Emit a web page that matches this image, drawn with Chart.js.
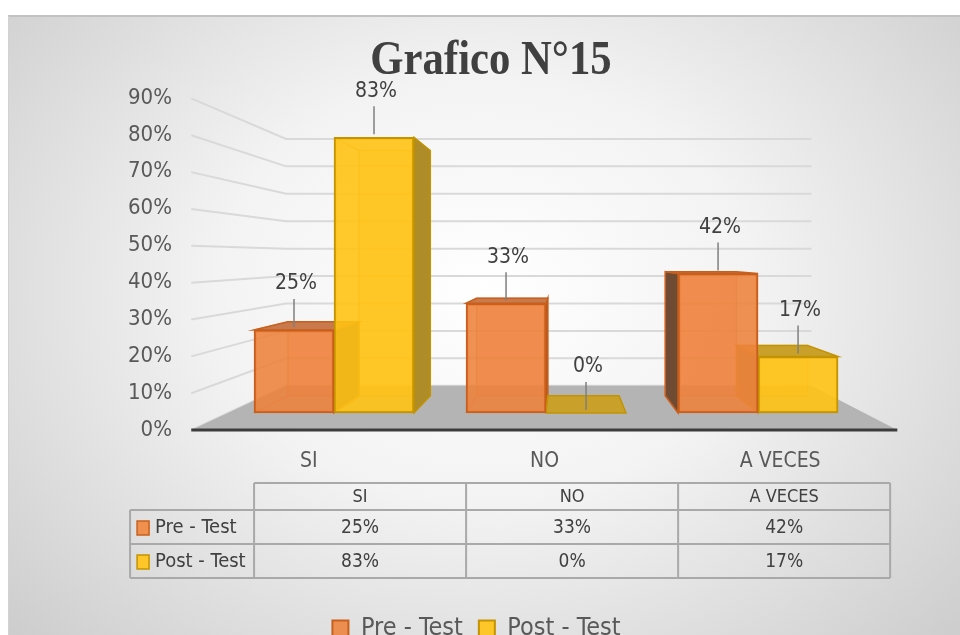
<!DOCTYPE html>
<html>
<head>
<meta charset="utf-8">
<script src="https://cdn.jsdelivr.net/npm/chart.js@4.4.1/dist/chart.umd.min.js"></script>
<style>
  html, body { margin: 0; padding: 0; background: #fff; overflow: hidden; width: 960px; height: 635px; }
  #bg {
    position: absolute; left: 8px; top: 15px; width: 952px; height: 650px;
    border-top: 2px solid #c2c2c2; border-left: 1px solid #d2d2d2;
    background: radial-gradient(ellipse at 50% 42%, #ffffff 0%, #f3f3f3 40%, #cacaca 100%);
  }
  #chart { position: absolute; left: 0; top: 0; }
</style>
</head>
<body>
<div id="bg"></div>
<canvas id="chart" width="960" height="660"></canvas>
<script>
const categories = ['SI', 'NO', 'A VECES'];
const seriesNames = ['Pre - Test', 'Post - Test'];
const preTest = [25, 33, 42];
const postTest = [83, 0, 17];
const yTickValues = [0, 10, 20, 30, 40, 50, 60, 70, 80, 90];
const chartTitle = 'Grafico N°15';

const SANS = '"Liberation Sans Narrow", "DejaVu Sans Condensed", "Open Sans", sans-serif';

// colours for each series: front face, edge, top, side
const looks = [
    { front: 'rgba(238,130,60,0.88)', solid: '#f0904f', edge: '#c95f1c', soft: 'rgba(201,95,28,0.45)',
      top: '#c87a4d', side: '#6f4b33', back: 'rgba(240,140,80,0.30)' },
    { front: 'rgba(255,194,20,0.90)', solid: '#ffc629', edge: '#c49300', soft: 'rgba(196,147,0,0.45)',
      top: '#c9a12a', side: '#ae8c28', back: 'rgba(255,200,40,0.30)' }
];

// fake perspective: vanishing point in data units, depth ratios
const persp = { vx: 1.075, vy: 47, barDepth: 0.11, wall: 0.174, front: -0.11 };

function proj(V, p, k) {
    return [p[0] + k * (V[0] - p[0]), p[1] + k * (V[1] - p[1])];
}

function poly(ctx, pts) {
    ctx.beginPath();
    ctx.moveTo(pts[0][0], pts[0][1]);
    for (let i = 1; i < pts.length; i++) ctx.lineTo(pts[i][0], pts[i][1]);
    ctx.closePath();
}

function vanish(chart) {
    return [chart.scales.xb.getPixelForValue(persp.vx), chart.scales.yb.getPixelForValue(persp.vy)];
}

const scene3d = {
    id: 'scene3d',
    beforeDatasetsDraw(chart) {
        const ctx = chart.ctx, xs = chart.scales.xb, ys = chart.scales.yb;
        const V = vanish(chart);
        const xl = xs.getPixelForValue(-0.5), xr = xs.getPixelForValue(categories.length - 0.5);
        const y0 = ys.getPixelForValue(0);
        ctx.save();

        // walls grid
        ctx.strokeStyle = '#d9d9d9';
        ctx.lineWidth = 2;
        yTickValues.forEach(v => {
            const y = ys.getPixelForValue(v);
            const a = proj(V, [xl, y], persp.front), b = proj(V, [xl, y], persp.wall), c = proj(V, [xr, y], persp.wall);
            ctx.beginPath();
            ctx.moveTo(a[0], a[1]); ctx.lineTo(b[0], b[1]); ctx.lineTo(c[0], c[1]);
            ctx.stroke();
        });

        // floor
        const f = [proj(V, [xl, y0], persp.front), proj(V, [xr, y0], persp.front),
                   proj(V, [xr, y0], persp.wall), proj(V, [xl, y0], persp.wall)];
        poly(ctx, f);
        ctx.fillStyle = '#b4b4b4';
        ctx.fill();
        ctx.beginPath();
        ctx.moveTo(f[0][0], f[0][1]); ctx.lineTo(f[1][0], f[1][1]);
        ctx.strokeStyle = '#3c3c3c';
        ctx.lineWidth = 3;
        ctx.stroke();

        // hidden faces of the bars
        chart.data.datasets.forEach((ds, di) => {
            const look = looks[di];
            chart.getDatasetMeta(di).data.forEach(bar => {
                const { x, y, base, width } = bar.getProps(['x', 'y', 'base', 'width'], true);
                const x1 = x - width / 2, x2 = x + width / 2, k = persp.barDepth;
                const tl = proj(V, [x1, y], k), tr = proj(V, [x2, y], k);
                const bl = proj(V, [x1, base], k), br = proj(V, [x2, base], k);
                ctx.lineWidth = 1.5;
                if (base - y > 1) {
                    poly(ctx, [tl, tr, br, bl]);
                    ctx.fillStyle = look.back; ctx.fill();
                    ctx.strokeStyle = look.soft; ctx.stroke();
                    ctx.beginPath();
                    ctx.moveTo(x1, base); ctx.lineTo(bl[0], bl[1]);
                    ctx.moveTo(x1, y); ctx.lineTo(tl[0], tl[1]);
                    ctx.stroke();
                }
                let side = null;
                if (x2 < V[0]) side = [[x2, y], tr, br, [x2, base]];
                else if (x1 > V[0]) side = [[x1, y], tl, bl, [x1, base]];
                if (side && base - y > 1) {
                    poly(ctx, side);
                    ctx.fillStyle = look.side; ctx.fill();
                    ctx.strokeStyle = look.edge; ctx.stroke();
                }
                if (y > V[1]) {
                    poly(ctx, [[x1, y], [x2, y], tr, tl]);
                    ctx.fillStyle = look.top; ctx.fill();
                    ctx.strokeStyle = look.edge; ctx.stroke();
                }
            });
        });
        ctx.restore();
    },
    afterDraw(chart) {
        const ctx = chart.ctx;
        ctx.save();
        // title (narrow, tall serif)
        ctx.fillStyle = '#404040';
        ctx.font = 'bold 48px "Liberation Serif", serif';
        ctx.textAlign = 'center';
        ctx.textBaseline = 'middle';
        ctx.save();
        ctx.translate(491, 62);
        ctx.scale(0.89, 1);
        ctx.fillText(chartTitle, 0, 0);
        ctx.restore();

        // value labels with leader lines
        ctx.font = '21px ' + SANS;
        chart.data.datasets.forEach((ds, di) => {
            chart.getDatasetMeta(di).data.forEach((bar, i) => {
                const { x, y } = bar.getProps(['x', 'y'], true);
                ctx.strokeStyle = '#7f7f7f';
                ctx.lineWidth = 1.5;
                ctx.beginPath();
                ctx.moveTo(x, y - 3); ctx.lineTo(x, y - 31);
                ctx.stroke();
                ctx.fillStyle = '#404040';
                ctx.fillText(ds.values[i] + '%', x + 2, y - 46);
            });
        });
        ctx.restore();
    }
};

const dataTable = {
    id: 'dataTable',
    afterDraw(chart) {
        const ctx = chart.ctx, xs = chart.scales.xb;
        const top = chart.chartArea.bottom + 53;
        const headH = 27, rowH = 34;
        const edge = i => xs.getPixelForValue(i - 0.377);
        const left = edge(0) - 124, right = edge(categories.length);
        const bottom = top + headH + rowH * 2;
        ctx.save();
        ctx.strokeStyle = '#a9a9a9';
        ctx.lineWidth = 2;
        ctx.beginPath();
        ctx.moveTo(edge(0), top); ctx.lineTo(right, top);
        [top + headH, top + headH + rowH, bottom].forEach(y => { ctx.moveTo(left, y); ctx.lineTo(right, y); });
        ctx.moveTo(left, top + headH); ctx.lineTo(left, bottom);
        for (let i = 0; i <= categories.length; i++) { ctx.moveTo(edge(i), top); ctx.lineTo(edge(i), bottom); }
        ctx.stroke();

        ctx.fillStyle = '#404040';
        ctx.textBaseline = 'middle';
        ctx.textAlign = 'center';
        ctx.font = '18px ' + SANS;
        categories.forEach((c, i) => ctx.fillText(c, (edge(i) + edge(i + 1)) / 2, top + headH / 2 + 1));

        chart.data.datasets.forEach((ds, di) => {
            const cy = top + headH + rowH * di + rowH / 2 + 1;
            ctx.fillStyle = looks[di].solid;
            ctx.strokeStyle = looks[di].edge;
            ctx.lineWidth = 1.5;
            ctx.fillRect(left + 7, cy - 7, 12, 14);
            ctx.strokeRect(left + 7, cy - 7, 12, 14);
            ctx.fillStyle = '#404040';
            ctx.textAlign = 'left';
            ctx.font = '20px ' + SANS;
            ctx.fillText(ds.label, left + 25, cy);
            ctx.textAlign = 'center';
            ctx.font = '19px ' + SANS;
            ds.values.forEach((v, i) => ctx.fillText(v + '%', (edge(i) + edge(i + 1)) / 2, cy));
        });
        ctx.restore();
    }
};

function series(values, i) {
    return {
        label: seriesNames[i],
        values: values,
        data: values.map((v, j) => ({ x: j, y: v })),
        xAxisID: 'xb',
        yAxisID: 'yb',
        backgroundColor: looks[i].front,
        borderColor: looks[i].edge,
        borderWidth: 2,
        borderSkipped: false,
        barThickness: 80
    };
}

new Chart(document.getElementById('chart'), {
    type: 'bar',
    data: {
        labels: categories,
        datasets: [series(preTest, 0), series(postTest, 1)]
    },
    options: {
        responsive: false,
        animation: false,
        layout: { padding: { left: 55, right: 62, top: 98, bottom: 9 } },
        plugins: {
            title: { display: false },
            tooltip: { enabled: false },
            legend: {
                position: 'bottom',
                labels: {
                    color: '#595959',
                    font: { family: SANS, size: 25 },
                    boxWidth: 16,
                    boxHeight: 16,
                    padding: 16
                }
            }
        },
        scales: {
            x: {
                type: 'category',
                labels: categories,
                grid: { display: false, drawTicks: false },
                border: { display: false },
                ticks: { color: '#595959', font: { family: SANS, size: 21 }, padding: 19 },
                afterFit(s) { s.height = 170; }
            },
            xb: { type: 'linear', display: false, offset: false, grid: { offset: false }, min: -0.6745, max: 2.66 },
            y: {
                min: 0,
                max: 90,
                grid: { display: false, drawTicks: false },
                border: { display: false },
                afterBuildTicks(s) { s.ticks = yTickValues.map(v => ({ value: v })); },
                ticks: { color: '#595959', font: { family: SANS, size: 22 }, padding: 19, callback: v => v + '%' },
                afterFit(s) { s.width = 136; }
            },
            yb: { display: false, min: -5.15, max: 94.85 }
        }
    },
    plugins: [scene3d, dataTable]
});
</script>
</body>
</html>
